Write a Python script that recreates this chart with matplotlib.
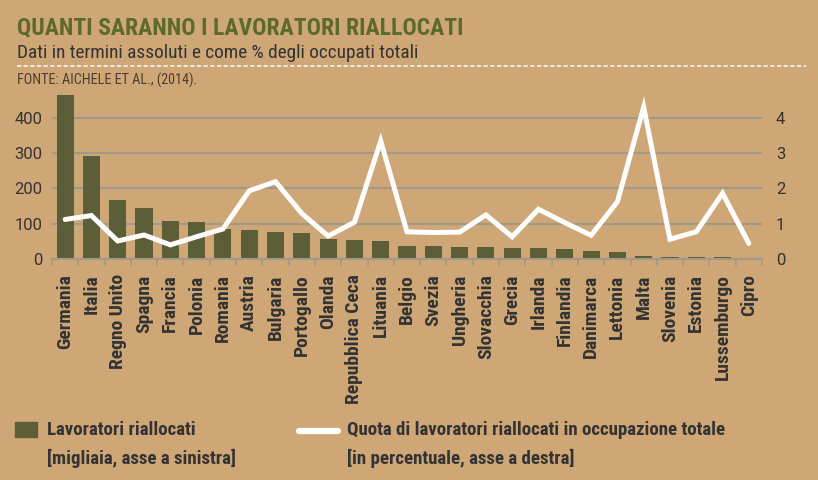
import matplotlib
matplotlib.use('Agg')
import matplotlib.pyplot as plt
import numpy as np
from matplotlib.lines import Line2D
from matplotlib.ticker import FixedLocator

# Dati
paesi = ['Germania', 'Italia', 'Regno Unito', 'Spagna', 'Francia', 'Polonia',
         'Romania', 'Austria', 'Bulgaria', 'Portogallo', 'Olanda',
         'Repubblica Ceca', 'Lituania', 'Belgio', 'Svezia', 'Ungheria',
         'Slovacchia', 'Grecia', 'Irlanda', 'Finlandia', 'Danimarca',
         'Lettonia', 'Malta', 'Slovenia', 'Estonia', 'Lussemburgo', 'Cipro']
lavoratori = [465, 291, 167, 144, 107, 106, 86, 81, 77, 73, 57, 55, 52, 38,
              37, 34, 34, 32, 32, 28, 22, 20, 9, 7, 7, 5, 3]
quota = [1.12, 1.23, 0.51, 0.68, 0.40, 0.63, 0.85, 1.93, 2.19, 1.29, 0.65,
         1.04, 3.34, 0.77, 0.75, 0.76, 1.25, 0.63, 1.41, 1.03, 0.67, 1.62,
         4.30, 0.56, 0.77, 1.86, 0.44]
ticks_sx = [0, 100, 200, 300, 400]
ticks_dx = [0, 1, 2, 3, 4]

SFONDO = '#CFA675'
BARRE = '#5B5E37'
TITOLO = '#5C6A2C'
TESTO = '#333333'
GRIGLIA = '#A09A8C'

NARROW = ['Roboto Condensed', 'Liberation Sans Narrow', 'Roboto', 'DejaVu Sans']
plt.rcParams['font.family'] = NARROW

fig = plt.figure(figsize=(8.18, 4.8), dpi=100, facecolor=SFONDO)
ax = fig.add_axes([52 / 818, 1 - 259 / 480, 710 / 818, 166 / 480])
ax.set_facecolor(SFONDO)

x = np.arange(len(paesi))
ax.bar(x, lavoratori, width=0.65, color=BARRE, zorder=2)
ax.set_xlim(-0.5, len(paesi) - 0.5)
ax.set_ylim(0, 470)
ax.set_yticks(ticks_sx)
ax.yaxis.grid(True, color=GRIGLIA, linewidth=1.5, zorder=0)
ax.set_axisbelow(True)

for lato in ['top', 'left', 'right']:
    ax.spines[lato].set_visible(False)
ax.spines['bottom'].set_color(GRIGLIA)
ax.spines['bottom'].set_linewidth(1.5)

ax.set_xticks(x)
ax.set_xticklabels(paesi, rotation=90, fontsize=14, fontweight='bold',
                   color=TESTO, family=NARROW)
ax.tick_params(axis='x', which='major', length=0, pad=11)
ax.xaxis.set_minor_locator(FixedLocator(np.arange(-0.5, len(paesi), 1.0)))
ax.tick_params(axis='x', which='minor', length=5, width=1.2, color=GRIGLIA)
ax.tick_params(axis='y', length=0, pad=7, labelsize=12, labelcolor=TESTO)
for t in ax.get_yticklabels():
    t.set_family(['Roboto', 'DejaVu Sans'])

ax2 = ax.twinx()
ax2.plot(x, quota, color='white', linewidth=3.6, solid_joinstyle='miter',
         solid_capstyle='round', zorder=3)
ax2.set_ylim(0, 4.7)
ax2.set_yticks(ticks_dx)
ax2.tick_params(axis='y', length=0, pad=10, labelsize=12, labelcolor=TESTO)
for t in ax2.get_yticklabels():
    t.set_family(['Roboto', 'DejaVu Sans'])
for lato in ['top', 'left', 'right', 'bottom']:
    ax2.spines[lato].set_visible(False)

# Intestazione
fig.text(17 / 818, 1 - 28 / 480, 'QUANTI SARANNO I LAVORATORI RIALLOCATI',
         fontsize=17, fontweight='bold', color=TITOLO, va='center')
fig.text(17 / 818, 1 - 53 / 480,
         'Dati in termini assoluti e come % degli occupati totali',
         fontsize=13.9, color=TESTO, va='center')
fig.add_artist(Line2D([17 / 818, 806 / 818], [1 - 66 / 480, 1 - 66 / 480],
                      color='white', linewidth=1.2, linestyle=(0, (2.5, 1.5)),
                      transform=fig.transFigure, alpha=0.9))
fig.text(17 / 818, 1 - 80 / 480, 'FONTE: AICHELE ET AL., (2014).',
         fontsize=10.2, color='#4A3F32', va='center')

# Legenda
fig.patches.append(plt.Rectangle((15 / 818, 1 - 437 / 480), 22 / 818, 15 / 480,
                                 transform=fig.transFigure, color=BARRE))
fig.text(47 / 818, 1 - 430 / 480, 'Lavoratori riallocati',
         fontsize=13.6, fontweight='bold', color=TESTO, va='center')
fig.text(47 / 818, 1 - 458 / 480, '[migliaia, asse a sinistra]',
         fontsize=13.6, fontweight='bold', color=TESTO, va='center')
fig.add_artist(Line2D([299 / 818, 338 / 818], [1 - 431 / 480, 1 - 431 / 480],
                      color='white', linewidth=4.5, solid_capstyle='round',
                      transform=fig.transFigure))
fig.text(347 / 818, 1 - 430 / 480,
         'Quota di lavoratori riallocati in occupazione totale',
         fontsize=13.6, fontweight='bold', color=TESTO, va='center')
fig.text(347 / 818, 1 - 458 / 480, '[in percentuale, asse a destra]',
         fontsize=13.6, fontweight='bold', color=TESTO, va='center')

fig.savefig('out.png', dpi=100, facecolor=SFONDO)
